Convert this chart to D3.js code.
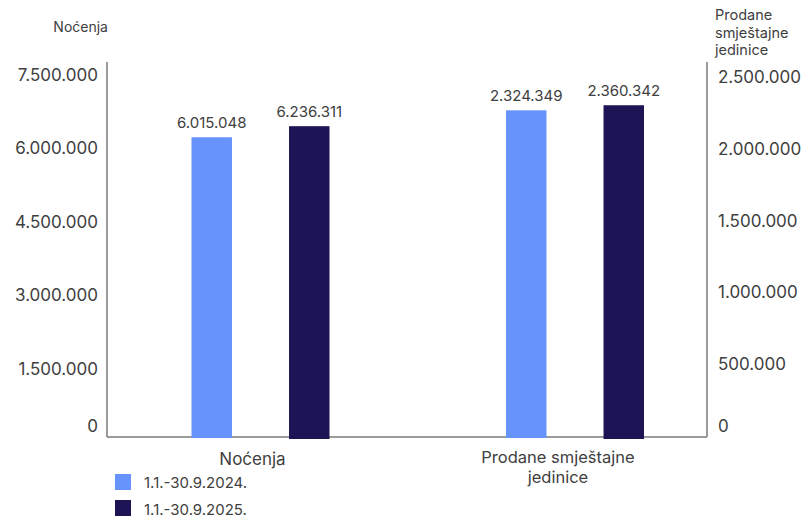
<!DOCTYPE html>
<html><head><meta charset="utf-8">
<script src="https://cdn.jsdelivr.net/npm/d3@7"></script>
<style>
body{margin:0;background:#fff;}
text{font-family:Inter,"Noto Sans",sans-serif;fill:#404040;}
</style></head>
<body>
<svg id="c" width="809" height="520"></svg>
<script>
const categories = ["Noćenja", "Prodane smještajne jedinice"];
const seriesNames = ["1.1.-30.9.2024.", "1.1.-30.9.2025."];
const values2024 = [6015048, 2324349];
const values2025 = [6236311, 2360342];
const leftTicks = [0, 1500000, 3000000, 4500000, 6000000, 7500000];
const rightTicks = [0, 500000, 1000000, 1500000, 2000000, 2500000];
const colors = ["#6694FC", "#1D1455"];

const svg = d3.select("#c");
const fmt = v => d3.format(",")(v).replace(/,/g, ".");

const L = 107, R = 707, T = 62, B = 437;

const yLeft = d3.scaleLinear().domain([0, 7500000]).range([438, 63]);
const yRight = d3.scaleLinear().domain([0, 2660000]).range([438, 63]);
const yScales = [yLeft, yRight];

// tick label placement scales
const leftLab = d3.scaleLinear().domain([0, 7500000]).range([442.5, 75]);
const rightLab = d3.scaleLinear().domain([0, 2500000]).range([436, 77]);

const x0 = d3.scalePoint().domain(categories).range([260.5, 575]);
const x1 = d3.scaleBand().domain(seriesNames).range([-69, 69]).paddingInner(0.585).paddingOuter(0);

// axis lines
const axisColor = "#7a7a7a";
svg.append("line").attr("x1", L).attr("x2", L).attr("y1", T).attr("y2", B).attr("stroke", axisColor).attr("stroke-width", 1.5);
svg.append("line").attr("x1", R).attr("x2", R).attr("y1", T).attr("y2", B).attr("stroke", axisColor).attr("stroke-width", 1.5);
svg.append("line").attr("x1", L).attr("x2", R).attr("y1", B).attr("y2", B).attr("stroke", axisColor).attr("stroke-width", 1.5);

// tick labels
svg.selectAll(".lt").data(leftTicks).enter().append("text")
  .attr("x", 98).attr("y", d => Math.min(leftLab(d), 426)).attr("dy", "0.35em")
  .attr("text-anchor", "end").style("font-size", "17px").text(fmt);
svg.selectAll(".rt").data(rightTicks).enter().append("text")
  .attr("x", 718).attr("y", d => Math.min(rightLab(d), 426)).attr("dy", "0.35em")
  .attr("text-anchor", "start").style("font-size", "17px").text(fmt);

// axis titles
svg.append("text").attr("x", 108).attr("y", 27.5).attr("dy", "0.35em").attr("text-anchor", "end")
  .style("font-size", "14px").text("Noćenja");
["Prodane", "smještajne", "jedinice"].forEach((s, i) =>
  svg.append("text").attr("x", 715).attr("y", 15 + i * 17.5).attr("dy", "0.35em")
    .style("font-size", "14.5px").text(s));

// bars
const series = [values2024, values2025];
series.forEach((vals, si) => {
  const g = svg.append("g");
  g.selectAll("rect").data(vals).enter().append("rect")
    .attr("x", (d, i) => x0(categories[i]) + x1(seriesNames[si]))
    .attr("width", x1.bandwidth())
    .attr("y", (d, i) => yScales[i](d))
    .attr("height", (d, i) => yScales[i](0) - yScales[i](d) + si)
    .attr("fill", colors[si]);
  g.selectAll("text").data(vals).enter().append("text")
    .attr("x", (d, i) => x0(categories[i]) + x1(seriesNames[si]) + x1.bandwidth() / 2)
    .attr("y", (d, i) => yScales[i](d) - 9)
    .attr("text-anchor", "middle").style("font-size", "15px").text(fmt);
});

// category labels
svg.append("text").attr("x", x0(categories[0]) - 8).attr("y", 459).attr("dy", "0.35em")
  .attr("text-anchor", "middle").style("font-size", "17px").text(categories[0]);
["Prodane smještajne", "jedinice"].forEach((s, i) =>
  svg.append("text").attr("x", x0(categories[1]) - 17).attr("y", 457 + i * 20).attr("dy", "0.35em")
    .attr("text-anchor", "middle").style("font-size", "16.5px").text(s));

// legend
const lg = svg.append("g");
seriesNames.forEach((s, i) => {
  lg.append("rect").attr("x", 115).attr("y", 474 + i * 26).attr("width", 16).attr("height", 16).attr("fill", colors[i]);
  lg.append("text").attr("x", 144).attr("y", 483 + i * 27).attr("dy", "0.35em").style("font-size", "15px").text(s);
});
</script>
</body></html>
